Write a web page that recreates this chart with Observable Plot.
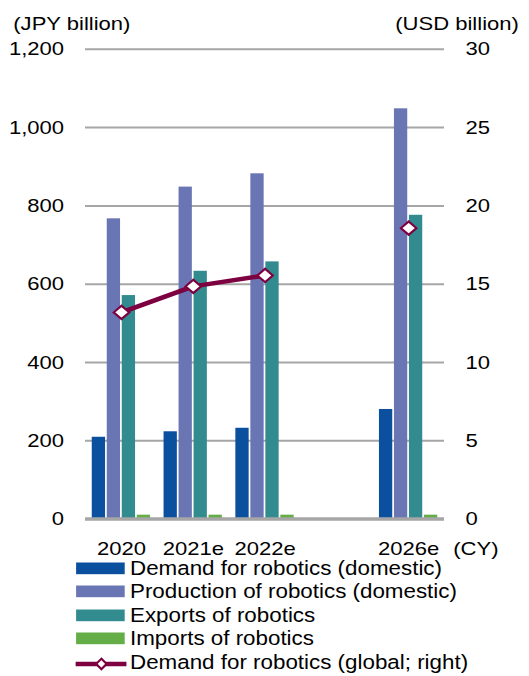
<!DOCTYPE html>
<html>
<head>
<meta charset="utf-8">
<script src="https://cdn.jsdelivr.net/npm/d3@7"></script>
<script src="https://cdn.jsdelivr.net/npm/@observablehq/plot@0.6"></script>
<style>
  html, body { margin: 0; padding: 0; background: #fff; overflow: hidden; }
  #wrap { position: relative; height: 676px; transform-origin: 0 0; font-family: "Liberation Sans", Arial, sans-serif; }
  #legend { position: absolute; left: 0; font-size: 19.3px; color: #000; }
  .row { position: relative; height: 23.5px; line-height: 23.5px; white-space: nowrap; }
  .sw { position: absolute; }
</style>
</head>
<body>
<div id="wrap"></div>
<script>
// ---- data ----
const categories = ["2020", "2021e", "2022e", "", "2026e"];
const demandDomestic = [209, 223, 232, null, 280];
const productionDomestic = [767, 848, 882, null, 1048];
const exportsRobotics = [571, 633, 657, null, 776];
const importsRobotics = [10, 10, 10, null, 10];
const demandGlobalUSD = [13.2, 14.86, 15.56, null, 18.58];
const yTicks = [0, 200, 400, 600, 800, 1000, 1200];
const usdTicks = [0, 5, 10, 15, 20, 25, 30];
const seriesNames = [
  "Demand for robotics (domestic)",
  "Production of robotics (domestic)",
  "Exports of robotics",
  "Imports of robotics",
  "Demand for robotics (global; right)"
];
const seriesColors = ["#0b4f9f", "#6a76b4", "#328b8e", "#64ad47", "#7d0040"];

// ---- layout ----
const S = 1.16;               // horizontal stretch of the original picture
const PW = 529;
const W = PW / S;
const svgTop = 13.1;
const marginLeft = 85 / S, marginRight = (PW - 444) / S;
const marginTop = 48.9 - svgTop;
const plotBottom = 518.7 - svgTop;
const H = 546;
const marginBottom = H - plotBottom;
const slot = (W - marginLeft - marginRight) / categories.length;
const barW = 13.3 / S, barStep = 15 / S;
const groupW = barStep * 3 + barW;
const firstOff = (slot - groupW) / 2;
const ratio = yTicks[yTicks.length - 1] / usdTicks[usdTicks.length - 1];

const rows = categories.map((c, i) => ({
  year: c,
  vals: [demandDomestic[i], productionDomestic[i], exportsRobotics[i], importsRobotics[i]],
  usd: demandGlobalUSD[i]
}));

const barMarks = [0, 1, 2, 3].map(k => Plot.barY(rows.filter(r => r.vals[k] != null), {
  x: "year",
  y: r => r.vals[k],
  fill: seriesColors[k],
  insetLeft: firstOff + k * barStep,
  insetRight: slot - (firstOff + k * barStep) - barW
}));

const wrap = document.getElementById("wrap");
wrap.style.width = W + "px";
wrap.style.transform = `scaleX(${S})`;

const chart = Plot.plot({
  width: W,
  height: H,
  marginTop, marginBottom, marginLeft, marginRight,
  style: {fontFamily: '"Liberation Sans", Arial, sans-serif', fontSize: "19px", color: "#000", background: "transparent", overflow: "visible"},
  x: {domain: categories, padding: 0, round: false, axis: null, label: null},
  y: {domain: [0, 1200], axis: null, label: null},
  marks: [
    Plot.gridY(yTicks.filter(d => d > 0), {stroke: "#a6a6a6", strokeOpacity: 1, strokeWidth: 2}),
    ...barMarks,
    Plot.ruleY([0], {stroke: "#a6a6a6", strokeWidth: 3.5}),
    Plot.line(rows, {x: "year", y: r => r.usd == null ? NaN : r.usd * ratio, stroke: seriesColors[4], strokeWidth: 4.5}),
    Plot.dot(rows.filter(r => r.usd != null), {x: "year", y: r => r.usd * ratio, symbol: "diamond2", r: 6, fill: "white", stroke: seriesColors[4], strokeWidth: 2}),
    Plot.axisY(yTicks, {anchor: "left", tickSize: 0, tickPadding: 21.5 / S, tickFormat: d3.format(","), label: null}),
    Plot.axisY(usdTicks.map(v => v * ratio), {anchor: "right", tickSize: 0, tickPadding: 21 / S, tickFormat: d => String(d / ratio), label: null}),
    Plot.axisX({tickSize: 0, tickPadding: 22, label: null, tickFormat: d => d}),
    Plot.text(["(JPY billion)"], {frameAnchor: "top-left", text: d => d, textAnchor: "start", lineAnchor: "top", dx: (12.7 - 85) / S, dy: 3 - marginTop}),
    Plot.text(["(USD billion)"], {frameAnchor: "top-right", text: d => d, textAnchor: "end", lineAnchor: "top", dx: (518.3 - 444) / S, dy: 3 - marginTop}),
    Plot.text(["(CY)"], {frameAnchor: "bottom-right", text: d => d, textAnchor: "start", lineAnchor: "top", dx: 8.7 / S, dy: 22})
  ]
});
chart.style.position = "absolute";
chart.style.top = svgTop + "px";
chart.style.left = "0px";
wrap.appendChild(chart);

// ---- legend ----
const legend = document.createElement("div");
legend.id = "legend";
legend.style.top = "556.8px";
legend.style.width = W + "px";
seriesNames.forEach((name, k) => {
  const row = document.createElement("div");
  row.className = "row";
  row.style.paddingLeft = (130 / S) + "px";
  const sw = document.createElementNS("http://www.w3.org/2000/svg", "svg");
  sw.setAttribute("class", "sw");
  const swW = 52 / S;
  sw.setAttribute("width", swW);
  sw.setAttribute("height", 23.5);
  sw.style.left = (75 / S) + "px";
  sw.style.top = "0px";
  if (k < 4) {
    sw.innerHTML = `<rect x="${0.7 / S}" y="5.5" width="${48.6 / S}" height="11.7" fill="${seriesColors[k]}"/>`;
  } else {
    const cx = (101 - 75) / S, cy = 12.9, r = 5.2;
    sw.innerHTML = `<line x1="0" x2="${51.7 / S}" y1="${cy}" y2="${cy}" stroke="${seriesColors[k]}" stroke-width="4.5"/>` +
      `<path d="M${cx},${cy - r}L${cx + r / S},${cy}L${cx},${cy + r}L${cx - r / S},${cy}Z" fill="white" stroke="${seriesColors[k]}" stroke-width="2"/>`;
  }
  row.appendChild(sw);
  const t = document.createElement("span");
  t.textContent = name;
  row.appendChild(t);
  legend.appendChild(row);
});
wrap.appendChild(legend);
</script>
</body>
</html>
